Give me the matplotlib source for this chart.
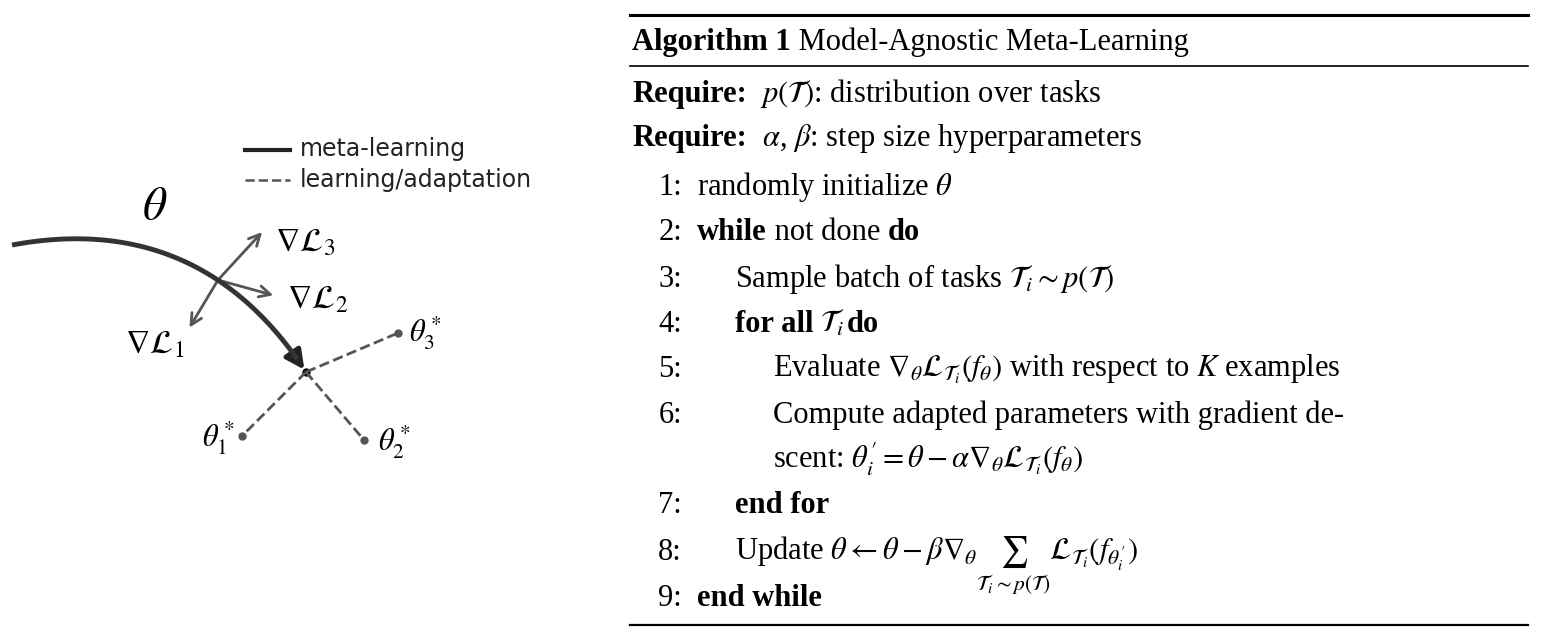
import numpy as np
import matplotlib.pyplot as plt
from matplotlib.patches import FancyArrowPatch

plt.rcParams['mathtext.fontset'] = 'stix'
plt.rcParams['font.family'] = ['Liberation Serif', 'DejaVu Serif']

# diagram points (pixel coords of the reference)
meta_start = (12, 245)
meta_end = (306, 372)
branch = (218, 280)
grad_tips = {r'$\nabla\mathcal{L}_1$': (188, 330), r'$\nabla\mathcal{L}_2$': (276, 296), r'$\nabla\mathcal{L}_3$': (264, 230)}
grad_labels = {r'$\nabla\mathcal{L}_1$': (155, 345), r'$\nabla\mathcal{L}_2$': (318, 300), r'$\nabla\mathcal{L}_3$': (305, 243)}
task_opt = {r'$\theta_1^*$': (242, 436), r'$\theta_2^*$': (364, 440), r'$\theta_3^*$': (398, 333)}
task_labels = {r'$\theta_1^*$': (218, 438), r'$\theta_2^*$': (394, 442), r'$\theta_3^*$': (425, 333)}

# algorithm lines: (number, indent level, segments)
algo_lines = [
    ('', 0, [('Require:', 'bold'), ('  $p(\\mathcal{T})$: distribution over tasks', 'normal')]),
    ('', 0, [('Require:', 'bold'), ('  $\\alpha$, $\\beta$: step size hyperparameters', 'normal')]),
    ('1:', 1, [('randomly initialize $\\theta$', 'normal')]),
    ('2:', 1, [('while', 'bold'), (' not done ', 'normal'), ('do', 'bold')]),
    ('3:', 2, [('Sample batch of tasks $\\mathcal{T}_i \\sim p(\\mathcal{T})$', 'normal')]),
    ('4:', 2, [('for all', 'bold'), (' $\\mathcal{T}_i$ ', 'normal'), ('do', 'bold')]),
    ('5:', 3, [('Evaluate $\\nabla_\\theta \\mathcal{L}_{\\mathcal{T}_i}(f_\\theta)$ with respect to $K$ examples', 'normal')]),
    ('6:', 3, [('Compute adapted parameters with gradient de-', 'normal')]),
    ('', 3, [("scent: $\\theta_i' = \\theta - \\alpha \\nabla_\\theta \\mathcal{L}_{\\mathcal{T}_i}(f_\\theta)$", 'normal')]),
    ('7:', 2, [('end for', 'bold')]),
    ('8:', 2, [("Update $\\theta \\leftarrow \\theta - \\beta \\nabla_\\theta \\sum_{\\mathcal{T}_i \\sim p(\\mathcal{T})} \\mathcal{L}_{\\mathcal{T}_i}(f_{\\theta_i'})$", 'normal')]),
    ('9:', 1, [('end while', 'bold')]),
]
line_y = [92, 136, 185, 230, 277, 322, 367, 413, 458, 503, 550, 596]
indent_x = [632, 697, 735, 773]

fig = plt.figure(figsize=(15.41, 6.36), dpi=100)
ax = fig.add_axes([0, 0, 1, 1])
ax.set_xlim(0, 1541)
ax.set_ylim(636, 0)
ax.axis('off')

# meta-learning curve
t = np.linspace(0, 1, 100)
ctrl = (200, 210)
cx = (1 - t) ** 2 * meta_start[0] + 2 * (1 - t) * t * ctrl[0] + t ** 2 * meta_end[0]
cy = (1 - t) ** 2 * meta_start[1] + 2 * (1 - t) * t * ctrl[1] + t ** 2 * meta_end[1]
ax.plot(cx[:-4], cy[:-4], color='#333333', lw=3.5, solid_capstyle='butt')
ax.add_patch(FancyArrowPatch((cx[-8], cy[-8]), meta_end, arrowstyle='-|>', mutation_scale=28,
                             color='#222222', lw=3.5))
ax.text(155, 208, r'$\theta$', fontsize=34, ha='center', va='center')

for k, tip in grad_tips.items():
    ax.add_patch(FancyArrowPatch(branch, tip, arrowstyle='->', mutation_scale=20, color='#555555', lw=2))
    ax.text(*grad_labels[k], k, fontsize=24, ha='center', va='center')

ax.plot(*meta_end, 'o', color='black', ms=5)
for k, p in task_opt.items():
    ax.plot([meta_end[0], p[0]], [meta_end[1], p[1]], '--', color='#555555', lw=2)
    ax.plot(*p, 'o', color='#555555', ms=5)
    ax.text(*task_labels[k], k, fontsize=22, ha='center', va='center')

# legend
ax.plot([245, 290], [150, 150], color='#222222', lw=3)
ax.plot([245, 290], [180, 180], '--', color='#555555', lw=1.8)
ax.text(300, 149, 'meta-learning', fontsize=17, family='DejaVu Sans', va='center', color='#222222')
ax.text(300, 180, 'learning/adaptation', fontsize=17, family='DejaVu Sans', va='center', color='#222222')

# algorithm box
ax.plot([630, 1528], [15, 15], color='black', lw=2.2)
ax.plot([630, 1528], [66, 66], color='black', lw=1.2)
ax.plot([630, 1528], [625, 625], color='black', lw=1.6)

renderer = fig.canvas.get_renderer()


def draw_segments(x, y, segs, size=22):
    for s, w in segs:
        txt = ax.text(x, y, s, fontsize=size, fontweight=w, va='baseline')
        x += txt.get_window_extent(renderer).width


draw_segments(632, 50, [('Algorithm 1', 'bold'), (' Model-Agnostic Meta-Learning', 'normal')])
for (num, lvl, segs), y in zip(algo_lines, line_y):
    yb = y + 10
    if num:
        ax.text(682, yb, num, fontsize=22, ha='right', va='baseline')
    draw_segments(indent_x[lvl], yb, segs)

fig.savefig('out.png', dpi=100)
